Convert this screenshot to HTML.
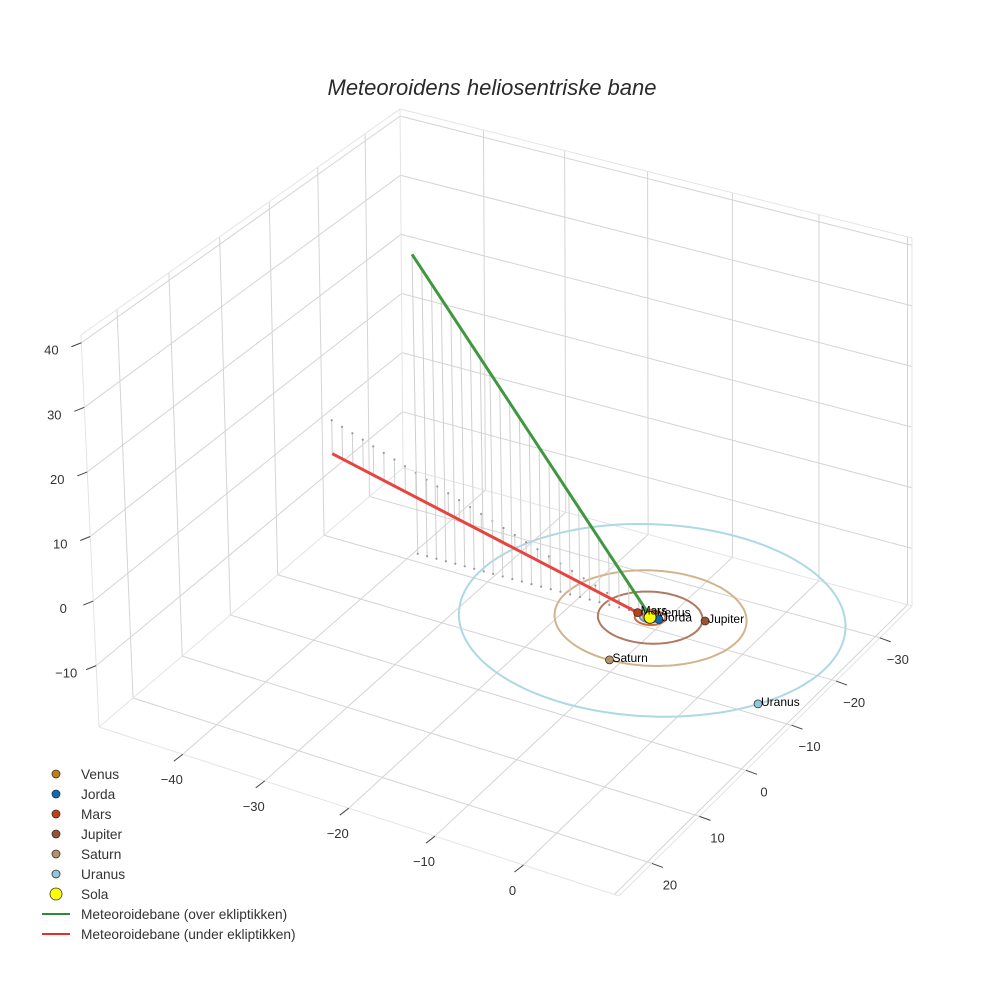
<!DOCTYPE html>
<html><head><meta charset="utf-8"><style>
html,body{margin:0;padding:0;background:#fff;}
svg{display:block;font-family:"Liberation Sans",sans-serif;}
</style></head><body>
<svg id="chart" width="984" height="984" viewBox="0 0 984 984" xmlns="http://www.w3.org/2000/svg">
<rect width="984" height="984" fill="#fff"/>
<text x="492" y="95" text-anchor="middle" font-size="22" font-style="italic" fill="#2a2a2a">Meteoroidens heliosentriske bane</text>
<g id="grid"></g>
<g id="ticks"></g>
<g id="marks"></g>
<g id="legend"></g>
</svg>
<script>
// ---- axis ranges / ticks ----
const xRange = [-50.5, 10.5];
const yRange = [-37.5, 26.8];
const zRange = [-19.5, 41.2];
const xTicks = [-40, -30, -20, -10, 0, 10];
const xTickLabels = ["−40", "−30", "−20", "−10", "0", ""];
const yTicks = [-30, -20, -10, 0, 10, 20];
const yTickLabels = ["−30", "−20", "−10", "0", "10", "20"];
const zTicks = [-10, 0, 10, 20, 30, 40];
const zTickLabels = ["−10", "0", "10", "20", "30", "40"];
// ---- data ----
const planetNames = ["Venus", "Jorda", "Mars", "Jupiter", "Saturn", "Uranus"];
const planetX = [0.1, 0.95, -1.5, 5.0, 0.5, 16.7];
const planetY = [-0.7, -0.1, -0.2, -2.2, 9.5, 9.4];
const planetZ = [0, 0, 0, 0, 0, 0];
const planetColors = ["#c47d10", "#0b6db5", "#c0400e", "#9a5232", "#b8916a", "#8ec8dd"];
const orbitRadii = [0.72, 1.0, 1.52, 5.2, 9.54, 19.2];
const orbitColors = ["#d9a35a", "#5a9fd0", "#d06a40", "#b07a60", "#d2b48c", "#add8e6"];
const sunPos = [0, 0, 0];
const greenX = [-26.5, -0.3];
const greenY = [0.8, -0.3];
const greenZ = [47.5, 0.2];
const redX = [-49.2, -0.8];
const redY = [-19.9, 0];
const redZ = [-5.5, 0];
const greenDrops = 24;
const redDrops = 28;

// ---- projection (homography per plane) ----
function sq2quad(p){
  const [x0,y0]=p[0],[x1,y1]=p[1],[x2,y2]=p[2],[x3,y3]=p[3];
  const dx1=x1-x2,dx2=x3-x2,dx3=x0-x1+x2-x3,dy1=y1-y2,dy2=y3-y2,dy3=y0-y1+y2-y3;
  const den=dx1*dy2-dx2*dy1;
  const g=(dx3*dy2-dx2*dy3)/den,h=(dx1*dy3-dx3*dy1)/den;
  const a=x1-x0+g*x1,b=x3-x0+h*x3,d=y1-y0+g*y1,e=y3-y0+h*y3;
  return (u,v)=>{const q=g*u+h*v+1;return [(a*u+b*v+x0)/q,(d*u+e*v+y0)/q];};
}
const Hb = sq2quad([[403,468],[912,606],[619,896],[99,727]]);
const Ht = sq2quad([[400,109],[912,238],[611,491],[81,335]]);
function P(x,y,z){
  const u=(x-xRange[0])/(xRange[1]-xRange[0]);
  const v=(y-yRange[0])/(yRange[1]-yRange[0]);
  const w=(z-zRange[0])/(zRange[1]-zRange[0]);
  const b=Hb(u,v),t=Ht(u,v);
  return [b[0]+(t[0]-b[0])*w, b[1]+(t[1]-b[1])*w];
}
const NS="http://www.w3.org/2000/svg";
function mk(tag,attrs,parent){const e=document.createElementNS(NS,tag);for(const k in attrs)e.setAttribute(k,attrs[k]);parent.appendChild(e);return e;}
function line3(a,b,stroke,wd,parent){const p=P(...a),q=P(...b);return mk('line',{x1:p[0],y1:p[1],x2:q[0],y2:q[1],stroke:stroke,'stroke-width':wd},parent);}

const grid=document.getElementById('grid');
const [x0,x1]=xRange,[y0,y1]=yRange,[z0,z1]=zRange;
const gc="#d4d4d4";
xTicks.forEach(x=>{const l=line3([x,y0,z0],[x,y1,z0],gc,1,grid);

});
yTicks.forEach(y=>{const l=line3([x0,y,z0],[x1,y,z0],gc,1,grid);

});
yTicks.forEach(y=>{const l=line3([x0,y,z0],[x0,y,z1],gc,1,grid);

});
zTicks.forEach(z=>{const l=line3([x0,y1,z],[x0,y0,z],gc,1,grid);

});
xTicks.forEach(x=>{const l=line3([x,y0,z0],[x,y0,z1],gc,1,grid);

});
zTicks.forEach(z=>{const l=line3([x0,y0,z],[x1,y0,z],gc,1,grid);

});
const ec="#e4e4e4";
[[[x0,y1,z0],[x0,y1,z1]],[[x0,y0,z0],[x0,y0,z1]],[[x1,y0,z0],[x1,y0,z1]],
 [[x0,y1,z1],[x0,y0,z1]],[[x0,y0,z1],[x1,y0,z1]],
 [[x0,y1,z0],[x1,y1,z0]],[[x1,y1,z0],[x1,y0,z0]],[[x0,y1,z0],[x0,y0,z0]],[[x0,y0,z0],[x1,y0,z0]]].forEach(s=>{
 const l=line3(s[0],s[1],ec,1,grid);
 
 });

const tk=document.getElementById('ticks');
const tc="#444";
zTicks.forEach((z,i)=>{const p=P(x0,y1,z);
 mk('line',{x1:p[0],y1:p[1],x2:p[0]-10,y2:p[1]+4,stroke:tc,'stroke-width':1},tk);
 const t=mk('text',{x:p[0]-30,y:p[1]+12,'text-anchor':'middle','font-size':13,fill:'#333'},tk);
 t.textContent=zTickLabels[i];
 
 });
xTicks.forEach((x,i)=>{if(!xTickLabels[i])return;const p=P(x,y1,z0);
 mk('line',{x1:p[0],y1:p[1],x2:p[0]-9,y2:p[1]+7,stroke:tc,'stroke-width':1},tk);
 const t=mk('text',{x:p[0]-11,y:p[1]+30,'text-anchor':'middle','font-size':13,fill:'#333'},tk);
 t.textContent=xTickLabels[i];
 
 });
yTicks.forEach((y,i)=>{const p=P(x1,y,z0);
 mk('line',{x1:p[0],y1:p[1],x2:p[0]+11,y2:p[1]+4,stroke:tc,'stroke-width':1},tk);
 const t=mk('text',{x:p[0]+18,y:p[1]+26,'text-anchor':'middle','font-size':13,fill:'#333'},tk);
 t.textContent=yTickLabels[i];
 
 });

const mg=document.getElementById('marks');
orbitRadii.forEach((r,i)=>{let d='';for(let a=0;a<=360;a+=3){const rad=a*Math.PI/180;const p=P(r*Math.cos(rad),r*Math.sin(rad),0);d+=(a?'L':'M')+p[0].toFixed(1)+','+p[1].toFixed(1);}
 const o=mk('path',{d:d,fill:'none',stroke:orbitColors[i],'stroke-width':2},mg);
 
 });
function drops(X,Y,Z,n,name){for(let k=0;k<n;k++){const t=k/n;const x=X[0]+(X[1]-X[0])*t,y=Y[0]+(Y[1]-Y[0])*t,z=Z[0]+(Z[1]-Z[0])*t;
 const l=line3([x,y,z],[x,y,0],'#cfcfcf',1,mg);
 
 
 const f=P(x,y,0);mk('circle',{cx:f[0],cy:f[1],r:1.1,fill:'#999'},mg);}}
drops(redX,redY,redZ,redDrops,'red-drop-line');
drops(greenX,greenY,greenZ,greenDrops,'green-drop-line');
const rl=line3([redX[0],redY[0],redZ[0]],[redX[1],redY[1],redZ[1]],'#e8443f',3,mg);


const gl=line3([greenX[0],greenY[0],greenZ[0]],[greenX[1],greenY[1],greenZ[1]],'#3f973f',3,mg);


planetNames.forEach((n,i)=>{const p=P(planetX[i],planetY[i],planetZ[i]);
 const c=mk('circle',{cx:p[0],cy:p[1],r:4,fill:planetColors[i],stroke:'#333','stroke-width':0.8},mg);
 
 });
const sp=P(...sunPos);
const sc=mk('circle',{cx:sp[0],cy:sp[1],r:6,fill:'#ffff00',stroke:'#222','stroke-width':1},mg);


planetNames.forEach((n,i)=>{const p=P(planetX[i],planetY[i],planetZ[i]);
 const t=mk('text',{x:p[0]+3,y:p[1]+2,'font-size':12,fill:'#000'},mg);t.textContent=n;
 
 });

const lg=document.getElementById('legend');
const legNames=planetNames.concat(["Sola"]);
const legCols=planetColors.concat(["#ffff00"]);
legNames.forEach((n,i)=>{const y=774+i*20;
 const c=mk('circle',{cx:56,cy:y,r:n==="Sola"?6:4,fill:legCols[i],stroke:'#333','stroke-width':0.8},lg);
 
 
 const t=mk('text',{x:81,y:y+5,'font-size':13.7,fill:'#333'},lg);t.textContent=n;
 
 });
[["Meteoroidebane (over ekliptikken)","#2e8b2e"],["Meteoroidebane (under ekliptikken)","#e82c2c"]].forEach((e,i)=>{const y=914+i*20;
 const l=mk('line',{x1:42,y1:y,x2:70,y2:y,stroke:e[1],'stroke-width':2},lg);
 
 
 const t=mk('text',{x:81,y:y+5,'font-size':13.7,fill:'#333'},lg);t.textContent=e[0];
 
 });
</script>
</body></html>
